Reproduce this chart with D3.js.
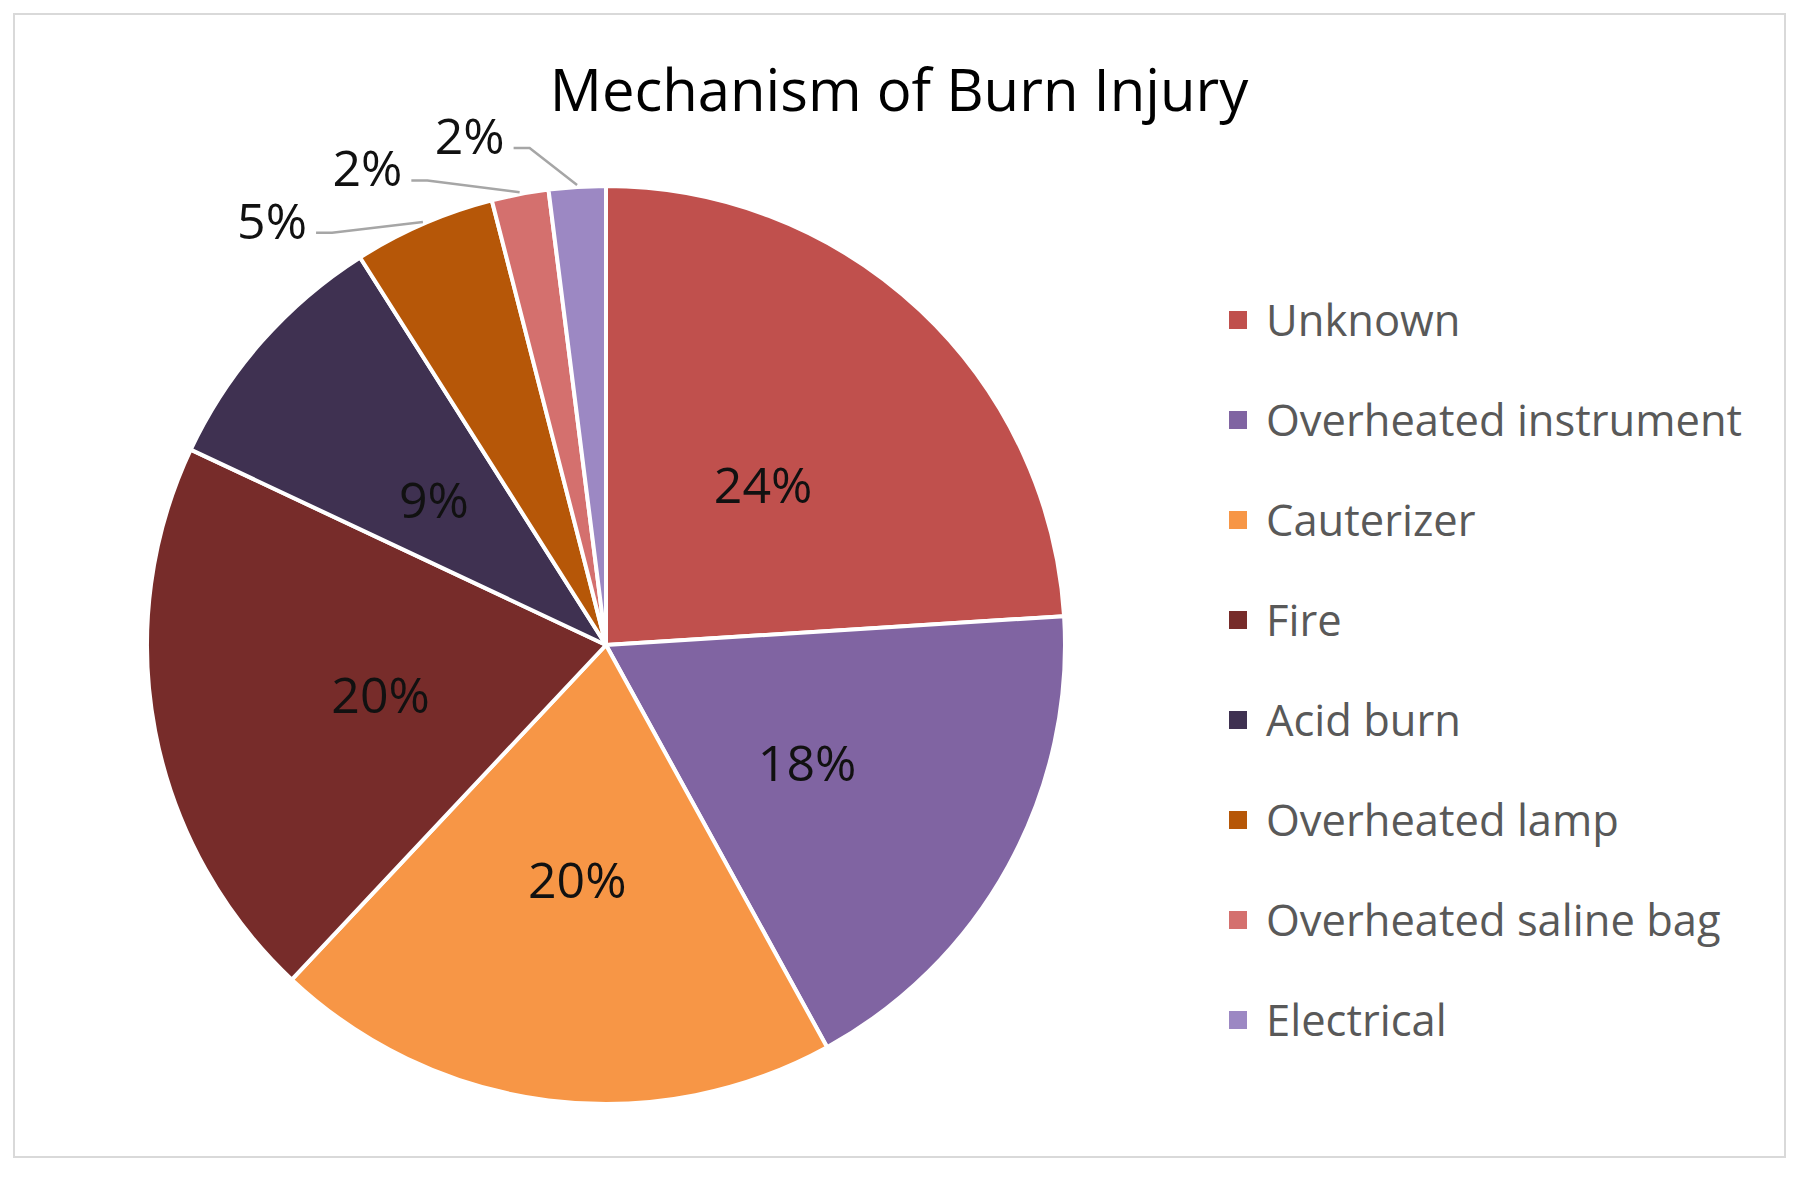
<!DOCTYPE html>
<html>
<head>
<meta charset="utf-8">
<script src="https://cdn.jsdelivr.net/npm/d3@7"></script>
<style>
  body { margin: 0; background: #fff; }
</style>
</head>
<body>
<script>
const categories = ["Unknown", "Overheated instrument", "Cauterizer", "Fire",
                    "Acid burn", "Overheated lamp", "Overheated saline bag", "Electrical"];
const values = [24, 18, 20, 20, 9, 5, 2, 2];
const colors = ["#C0504D", "#8064A2", "#F79646", "#772C2A",
                "#3F3151", "#B65708", "#D4706E", "#9C88C3"];
const title = "Mechanism of Burn Injury";

const W = 1800, H = 1177;
const cx = 606, cy = 645, r = 459;
const font = "'Open Sans', 'DejaVu Sans', sans-serif";

const svg = d3.select("body").append("svg")
  .attr("width", W)
  .attr("height", H);

// chart frame
svg.append("rect")
  .attr("x", 14).attr("y", 14)
  .attr("width", 1771).attr("height", 1143)
  .attr("fill", "#fff")
  .attr("stroke", "#d9d9d9")
  .attr("stroke-width", 2);

svg.append("text")
  .attr("x", 899)
  .attr("y", 111)
  .attr("font-family", font)
  .attr("font-size", 58)
  .style("text-anchor", "middle")
  .style("fill", "#000")
  .text(title);

const total = d3.sum(values);
const data = categories.map((c, i) => ({name: c, value: values[i], color: colors[i]}));

const pie = d3.pie().sort(null).value((d) => d.value);
const arcs = pie(data);

const arc = d3.arc().innerRadius(0).outerRadius(r);

const gPie = svg.append("g")
  .attr("transform", `translate(${cx}, ${cy})`);

gPie.selectAll(".slice").data(arcs)
  .enter().append("path")
  .attr("class", "slice")
  .attr("d", arc)
  .attr("fill", (d) => d.data.color)
  .attr("stroke", "#fff")
  .attr("stroke-width", 4)
  .attr("stroke-linejoin", "round");

const pct = (d) => Math.round(100 * d.data.value / total) + "%";

// big slices get labels inside, the small ones outside with leader lines
const inside = arcs.filter((d) => d.data.value / total >= 0.08);
const outside = arcs.filter((d) => d.data.value / total < 0.08);

gPie.selectAll(".label-in").data(inside)
  .enter().append("text")
  .attr("class", "label-in")
  .attr("transform", (d) => `translate(${arc.centroid(d)})`)
  .attr("dy", "0.5em")
  .attr("font-family", font)
  .attr("font-size", 50)
  .style("text-anchor", "middle")
  .style("fill", "#111")
  .text(pct);

// outside labels are pushed counter-clockwise so they don't collide (degrees, radius)
const outShift = [14.8, 15.8, 11.4];
const outRadius = [540, 533, 527];
const mid = (d) => (d.startAngle + d.endAngle) / 2;
const polar = (a, rad) => [rad * Math.sin(a), -rad * Math.cos(a)];
const labelPos = (d, i) => polar(mid(d) - outShift[i] * Math.PI / 180, outRadius[i]);

gPie.selectAll(".leader").data(outside)
  .enter().append("polyline")
  .attr("class", "leader")
  .attr("fill", "none")
  .attr("stroke", "#a6a6a6")
  .attr("stroke-width", 2.5)
  .attr("points", (d, i) => {
    const [lx, ly] = labelPos(d, i);
    const p0 = [lx + 44, ly + 12];
    const p1 = [lx + 60, ly + 12];
    const p2 = polar(mid(d), r + 2);
    return [p0, p1, p2].map((p) => p.join(",")).join(" ");
  });

gPie.selectAll(".label-out").data(outside)
  .enter().append("text")
  .attr("class", "label-out")
  .attr("transform", (d, i) => `translate(${labelPos(d, i)})`)
  .attr("dy", "0.36em")
  .attr("font-family", font)
  .attr("font-size", 50)
  .style("text-anchor", "middle")
  .style("fill", "#111")
  .text(pct);

// legend
const gLegend = svg.append("g")
  .attr("transform", "translate(1229, 320)");

const item = gLegend.selectAll(".item").data(data)
  .enter().append("g")
  .attr("class", "item")
  .attr("transform", (d, i) => `translate(0, ${i * 100})`);

item.append("rect")
  .attr("x", 0)
  .attr("y", -9)
  .attr("width", 18)
  .attr("height", 18)
  .attr("fill", (d) => d.color);

item.append("text")
  .attr("x", 37)
  .attr("dy", "0.36em")
  .attr("font-family", font)
  .attr("font-size", 43.5)
  .style("fill", "#595959")
  .text((d) => d.name);
</script>
</body>
</html>
